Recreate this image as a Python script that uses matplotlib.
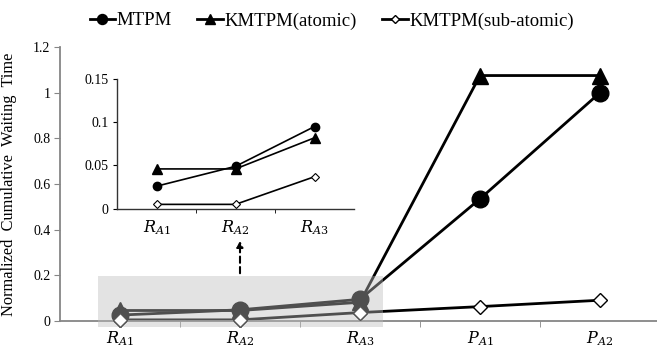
import matplotlib
matplotlib.use('Agg')
import matplotlib.pyplot as plt
import numpy as np
from matplotlib.patches import Rectangle, FancyArrowPatch

categories = [r'$R_{A1}$', r'$R_{A2}$', r'$R_{A3}$', r'$P_{A1}$', r'$P_{A2}$']
mtpm = [0.026, 0.049, 0.095, 0.535, 1.0]
km_atomic = [0.046, 0.046, 0.082, 1.075, 1.075]
km_sub = [0.005, 0.005, 0.037, 0.063, 0.091]
series_labels = ['MTPM', 'KMTPM(atomic)', 'KMTPM(sub-atomic)']

yticks = [0, 0.2, 0.4, 0.6, 0.8, 1.0, 1.2]
ytick_labels = ['0', '0.2', '0.4', '0.6', '0.8', '1', '1.2']
n_inset = 3
inset_yticks = [0, 0.05, 0.1, 0.15]
inset_ytick_labels = ['0', '0.05', '0.1', '0.15']

plt.rcParams['font.family'] = ['Liberation Serif', 'DejaVu Serif']
plt.rcParams['mathtext.fontset'] = 'dejavuserif'

W, H = 657, 348
fig = plt.figure(figsize=(W / 100, H / 100), dpi=100)
ax = fig.add_axes([60 / W, 27 / H, 600 / W, 274 / H])

x = np.arange(len(categories))
gray = '#868686'

ax.plot(x, mtpm, color='black', lw=2, marker='o', ms=12, mfc='black', mec='black',
        label=series_labels[0], zorder=2, clip_on=False)
ax.plot(x, km_atomic, color='black', lw=2, marker='^', ms=12, mfc='black', mec='black',
        label=series_labels[1], zorder=2, clip_on=False)
ax.plot(x, km_sub, color='black', lw=2, marker='D', ms=6.8, mfc='white', mec='black', mew=1.0,
        label=series_labels[2], zorder=2, clip_on=False)

# translucent highlight rectangle over the first three categories
rect = Rectangle((-0.18, -0.025), 2.37, 0.222, facecolor='#bdbdbd', alpha=0.42,
                 edgecolor='none', zorder=3, clip_on=False)
ax.add_patch(rect)
# diamonds re-drawn above the rectangle (white face shows through)
ax.plot(x[:n_inset], km_sub[:n_inset], ls='none', marker='D', ms=6.8, mfc='white',
        mec='#555555', mew=1.0, zorder=4, clip_on=False)

# dashed arrow up to inset
arr = FancyArrowPatch((1, 0.197), (1, 0.364), arrowstyle='-|>', mutation_scale=9,
                      linestyle=(0, (3, 2)), lw=1.5, color='black', zorder=5)
ax.add_patch(arr)

ax.set_xlim(-0.5, 4.5)
ax.set_ylim(0, 1.2)
ax.set_xticks(x)
ax.set_xticklabels(categories, fontsize=11.5)
ax.set_xticks(np.arange(0.5, len(categories) - 0.5, 1.0), minor=True)
ax.tick_params(axis='x', which='major', length=0, pad=6)
ax.tick_params(axis='x', which='minor', length=4, color=gray, direction='out')
ax.set_yticks(yticks)
ax.set_yticklabels(ytick_labels, fontsize=10)
ax.tick_params(axis='y', length=4, color=gray, direction='out', pad=3)
for s in ['top', 'right']:
    ax.spines[s].set_visible(False)
for s in ['left', 'bottom']:
    ax.spines[s].set_color(gray)
    ax.spines[s].set_linewidth(1.3)
ax.set_ylabel('Normalized  Cumulative  Waiting  Time', fontsize=11.8, labelpad=6)
ax.yaxis.set_label_coords(-0.072, 0.5)

leg = fig.legend(loc='center', bbox_to_anchor=(0.505, 0.94), ncol=3, frameon=False,
                 fontsize=13.5, markerscale=0.6, handlelength=1.35, handletextpad=0.1,
                 columnspacing=1.35, borderaxespad=0)

# inset
ix = fig.add_axes([117 / W, (H - 208.7) / H, 237 / W, 129.7 / H])
ix.patch.set_alpha(0)
xi = np.arange(n_inset)
ix.plot(xi, mtpm[:n_inset], color='black', lw=1.2, marker='o', ms=6, mfc='black', mec='black',
        clip_on=False)
ix.plot(xi, km_atomic[:n_inset], color='black', lw=1.2, marker='^', ms=6.5, mfc='black',
        mec='black', clip_on=False)
ix.plot(xi, km_sub[:n_inset], color='black', lw=1.2, marker='D', ms=3.9, mfc='white',
        mec='black', mew=0.8, clip_on=False)
ix.set_xlim(-0.5, n_inset - 0.5)
ix.set_ylim(0, 0.15)
ix.set_xticks(xi)
ix.set_xticklabels(categories[:n_inset], fontsize=11.5)
ix.set_xticks(np.arange(0.5, n_inset - 0.5, 1.0), minor=True)
ix.tick_params(axis='x', which='major', length=0, pad=7)
ix.tick_params(axis='x', which='minor', length=3, direction='out')
ix.set_yticks(inset_yticks)
ix.set_yticklabels(inset_ytick_labels, fontsize=10)
ix.tick_params(axis='y', length=3, direction='out', pad=3)
for s in ['top', 'right']:
    ix.spines[s].set_visible(False)
for s in ['left', 'bottom']:
    ix.spines[s].set_color('#333333')
    ix.spines[s].set_linewidth(1.0)

fig.savefig('out.png', dpi=100)
